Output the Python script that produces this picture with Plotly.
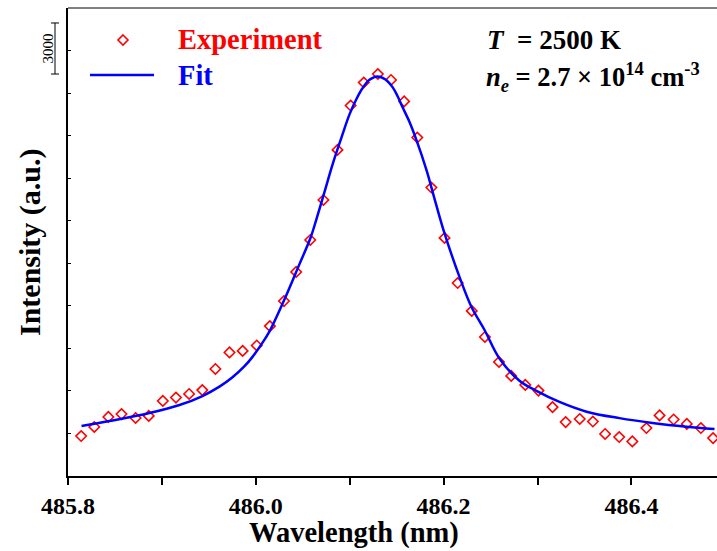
import plotly.graph_objects as go

# Experimental data (wavelength nm, intensity a.u.)
exp_wavelength = [485.814, 485.828, 485.843, 485.857, 485.872, 485.886, 485.901, 485.915,
                  485.929, 485.943, 485.957, 485.972, 485.986, 486.001, 486.015, 486.030,
                  486.043, 486.058, 486.072, 486.087, 486.101, 486.115, 486.130, 486.144,
                  486.158, 486.172, 486.187, 486.201, 486.215, 486.230, 486.244, 486.259,
                  486.272, 486.287, 486.301, 486.316, 486.330, 486.345, 486.359, 486.372,
                  486.387, 486.401, 486.416, 486.430, 486.445, 486.459, 486.474, 486.487]
exp_intensity = [2350, 2880, 3470, 3640, 3410, 3530, 4410, 4610,
                 4820, 5050, 6290, 7260, 7350, 7670, 8810, 10280,
                 11990, 13870, 16220, 19160, 21770, 23120, 23620, 23270,
                 22010, 19890, 16950, 13990, 11340, 9700, 8170, 6700,
                 5880, 5350, 5020, 4050, 3170, 3350, 3200, 2470,
                 2290, 2030, 2820, 3560, 3320, 3060, 2820, 2230]

# Fit curve
fit_wavelength = [485.8144, 485.8442, 485.8868, 485.9187, 485.9432, 485.9613, 485.9752, 485.9880,
                  485.9965, 486.0061, 486.0146, 486.0295, 486.0465, 486.0583, 486.0646, 486.0732,
                  486.0817, 486.0913, 486.0998, 486.1072, 486.1136, 486.1211, 486.1296, 486.1381,
                  486.1456, 486.1509, 486.1562, 486.1637, 486.1711, 486.1818, 486.1903, 486.1999,
                  486.2169, 486.2297, 486.2436, 486.2595, 486.2808, 486.2989, 486.3234, 486.3522,
                  486.3873, 486.4225, 486.4587, 486.4885]
fit_intensity = [2940, 3230, 3700, 4170, 4700, 5250, 5800, 6450,
                 7000, 7750, 8500, 10250, 12450, 14000, 15100, 16700,
                 18300, 19900, 21250, 22150, 22780, 23280, 23480, 23300,
                 22850, 22330, 21680, 20800, 19740, 17980, 16300, 14450,
                 11700, 9930, 8580, 6900, 5600, 5000, 4350, 3780,
                 3400, 3120, 2900, 2760]

x_ticks = [485.8, 486.0, 486.2, 486.4]
x_tick_labels = ["485.8", "486.0", "486.2", "486.4"]
scale_bar_value = 3000

FONT = "Liberation Serif"
L, T, B = 68, 8, 75
W, H = 717, 551
PW, PH = W - L, H - T - B

def px(xp):
    return (xp - L) / PW

def py(yp):
    return (H - B - yp) / PH

fig = go.Figure()
fig.add_trace(go.Scatter(
    x=exp_wavelength, y=exp_intensity, mode="markers", name="Experiment",
    marker=dict(symbol="diamond-open", size=8, color="#ff0000", line=dict(width=1.6, color="#ff0000")),
    showlegend=False))
fig.add_trace(go.Scatter(
    x=fit_wavelength, y=fit_intensity, mode="lines", name="Fit",
    line=dict(color="#0000ff", width=2.5, shape="spline", smoothing=1.0),
    showlegend=False))

shapes = []
# top border
shapes.append(dict(type="line", xref="paper", yref="paper", x0=0, x1=1, y0=1, y1=1,
                   line=dict(color="black", width=1)))
# legend keys
shapes.append(dict(type="path", xref="paper", yref="paper",
                   path=f"M {px(123)},{py(35)} L {px(128)},{py(40)} L {px(123)},{py(45)} L {px(118)},{py(40)} Z",
                   line=dict(color="#ff0000", width=1.6)))
shapes.append(dict(type="line", xref="paper", yref="paper", x0=px(90), x1=px(154), y0=py(75), y1=py(75),
                   line=dict(color="#0000ff", width=2.5)))
# scale bar (3000 units)
bar_top = 26620
bar_bot = bar_top - scale_bar_value
shapes.append(dict(type="line", xref="paper", yref="y", x0=px(55), x1=px(55), y0=bar_bot, y1=bar_top,
                   line=dict(color="black", width=1)))
for yy in (bar_bot, bar_top):
    shapes.append(dict(type="line", xref="paper", yref="y", x0=px(51), x1=px(59), y0=yy, y1=yy,
                       line=dict(color="black", width=1)))

annotations = [
    dict(text="Experiment", xref="paper", yref="paper", x=px(176), y=py(40), xanchor="left", yanchor="middle",
         showarrow=False, font=dict(family=FONT, size=28.5, color="#ff0000", weight="bold")),
    dict(text="Fit", xref="paper", yref="paper", x=px(176), y=py(75), xanchor="left", yanchor="middle",
         showarrow=False, font=dict(family=FONT, size=28.5, color="#0000ff", weight="bold")),
    dict(text="<i>T</i>  = 2500 K", xref="paper", yref="paper", x=px(485), y=py(40), xanchor="left",
         yanchor="middle", showarrow=False, font=dict(family=FONT, size=27, color="black", weight="bold")),
    dict(text="<i>n</i><sub><i>e</i></sub> = 2.7 × 10<sup>14</sup> cm<sup>-3</sup>", xref="paper", yref="paper",
         x=px(484), y=py(77), xanchor="left", yanchor="middle", showarrow=False,
         font=dict(family=FONT, size=26.5, color="black", weight="bold")),
    dict(text="3000", xref="paper", yref="y", x=px(47), y=(bar_top + bar_bot) / 2, textangle=-90,
         xanchor="center", yanchor="middle", showarrow=False,
         font=dict(family=FONT, size=15, color="black")),
    dict(text="Intensity (a.u.)", xref="paper", yref="paper", x=px(30), y=0.5, textangle=-90,
         xanchor="center", yanchor="middle", showarrow=False,
         font=dict(family=FONT, size=30, color="black", weight="bold")),
    dict(text="Wavelength (nm)", xref="paper", yref="paper", x=px(354), y=py(533),
         xanchor="center", yanchor="middle", showarrow=False,
         font=dict(family=FONT, size=28.5, color="black", weight="bold")),
]

fig.update_layout(
    width=W, height=H,
    margin=dict(l=L, r=0, t=T, b=B, pad=0),
    paper_bgcolor="white", plot_bgcolor="white",
    showlegend=False,
    shapes=shapes, annotations=annotations,
    xaxis=dict(range=[485.8, 485.8 + PW / 939.0], tickmode="array", tickvals=x_ticks, ticktext=x_tick_labels,
               ticks="outside", ticklen=7, tickwidth=1.5, tickcolor="black",
               minor=dict(dtick=0.1, tick0=485.8, ticks="outside", ticklen=7, tickwidth=1.5, tickcolor="black"),
               showline=True, linewidth=2, linecolor="black", mirror=False,
               showgrid=False, zeroline=False,
               tickfont=dict(family=FONT, size=24, color="black", weight="bold")),
    yaxis=dict(range=[0, 27500], dtick=2500, tick0=0, ticks="inside", ticklen=3, tickwidth=1,
               tickcolor="black", showticklabels=False,
               showline=True, linewidth=1.5, linecolor="black", mirror=False,
               showgrid=False, zeroline=False),
)

fig.write_html("out.html")
